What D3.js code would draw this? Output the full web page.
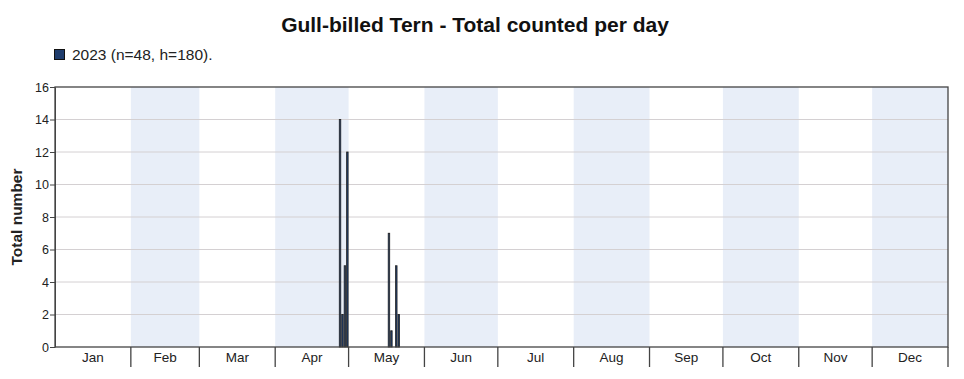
<!DOCTYPE html>
<html>
<head>
<meta charset="utf-8">
<script src="https://cdn.jsdelivr.net/npm/d3@7"></script>
<style>
  body { margin: 0; background: #fff; }
  text { font-family: "Liberation Sans", Arial, sans-serif; }
</style>
</head>
<body>
<svg id="chart"></svg>
<script>
// Data
const months = ["Jan","Feb","Mar","Apr","May","Jun","Jul","Aug","Sep","Oct","Nov","Dec"];
const monthDays = [31,28,31,30,31,30,31,31,30,31,30,31];
const countDates = ["2023-04-27","2023-04-28","2023-04-29","2023-04-30","2023-05-17","2023-05-18","2023-05-20","2023-05-21"];
const countValues = [14, 2, 5, 12, 7, 1, 5, 2];
const yTicks = [0,2,4,6,8,10,12,14,16];
const legendLabel = "2023 (n=48, h=180).";

const width = 964, height = 379;
const margin = {top: 87, right: 16, bottom: 32, left: 55};
const plotW = width - margin.left - margin.right;
const plotH = height - margin.top - margin.bottom;

const svg = d3.select("#chart").attr("width", width).attr("height", height);

// day-of-year scale
const x = d3.scaleLinear().domain([0, 365]).range([margin.left, margin.left + plotW]);
const y = d3.scaleLinear().domain([0, 16]).range([margin.top + plotH, margin.top]);

const monthStart = Array.from(d3.cumsum([0, ...monthDays.slice(0, -1)]));
const dayOfYear = s => d3.timeDay.count(new Date(2023, 0, 1), d3.timeParse("%Y-%m-%d")(s));

// shaded months
svg.append("g").selectAll("rect")
  .data(months.map((m, i) => ({m, i})).filter(d => d.i % 2 === 1))
  .join("rect")
  .attr("x", d => x(monthStart[d.i]))
  .attr("width", d => x(monthStart[d.i] + monthDays[d.i]) - x(monthStart[d.i]))
  .attr("y", margin.top)
  .attr("height", plotH)
  .attr("fill", "#e8eef8");

// gridlines
svg.append("g").selectAll("line")
  .data(yTicks.filter(t => t > 0 && t < 16))
  .join("line")
  .attr("x1", margin.left).attr("x2", margin.left + plotW)
  .attr("y1", d => y(d)).attr("y2", d => y(d))
  .attr("stroke", "#d4d0d2").attr("stroke-width", 1);

// bars
svg.append("g").selectAll("rect")
  .data(countDates.map((d, i) => ({day: dayOfYear(d), v: countValues[i]})))
  .join("rect")
  .attr("x", d => x(d.day + 0.5) - 0.75)
  .attr("width", 1.5)
  .attr("y", d => y(d.v))
  .attr("height", d => y(0) - y(d.v))
  .attr("fill", "#1f3d6d")
  .attr("stroke", "#222")
  .attr("stroke-width", 0.8);

// frame
svg.append("rect")
  .attr("x", margin.left).attr("y", margin.top)
  .attr("width", plotW).attr("height", plotH)
  .attr("fill", "none").attr("stroke", "#444").attr("stroke-width", 1.3);

// y axis
const yAxis = svg.append("g")
  .attr("transform", `translate(${margin.left},0)`)
  .call(d3.axisLeft(y).tickValues(yTicks).tickSize(5).tickSizeOuter(0));
yAxis.select(".domain").attr("stroke", "#444");
yAxis.selectAll(".tick line").attr("stroke", "#444");
yAxis.selectAll(".tick text").attr("font-size", 12.5).attr("fill", "#222").attr("x", -6);

// x axis: month boundaries as ticks, labels centred in months
const xg = svg.append("g").attr("transform", `translate(0,${margin.top + plotH})`);
xg.selectAll("line")
  .data(monthStart.slice(1).concat([365]))
  .join("line")
  .attr("x1", d => x(d)).attr("x2", d => x(d))
  .attr("y1", 0).attr("y2", 20)
  .attr("stroke", "#444").attr("stroke-width", 1.3);
xg.selectAll("text")
  .data(months)
  .join("text")
  .attr("x", (m, i) => x(monthStart[i] + monthDays[i] / 2))
  .attr("y", 15)
  .attr("text-anchor", "middle")
  .attr("font-size", 13.5)
  .attr("fill", "#222")
  .text(d => d);

// y title
svg.append("text")
  .attr("transform", `translate(21.5,${margin.top + plotH / 2}) rotate(-90)`)
  .attr("text-anchor", "middle")
  .attr("font-size", 15.5).attr("font-weight", "bold")
  .attr("fill", "#222")
  .text("Total number");

// title
svg.append("text")
  .attr("x", 475).attr("y", 32)
  .attr("text-anchor", "middle")
  .attr("font-size", 21).attr("font-weight", "bold")
  .attr("fill", "#111")
  .text("Gull-billed Tern - Total counted per day");

// legend
svg.append("rect")
  .attr("x", 54.5).attr("y", 49.5).attr("width", 10).attr("height", 10)
  .attr("fill", "#1f3d6d").attr("stroke", "#111");
svg.append("text")
  .attr("x", 72).attr("y", 59.5)
  .attr("font-size", 15.5).attr("fill", "#222")
  .text(legendLabel);
</script>
</body>
</html>
